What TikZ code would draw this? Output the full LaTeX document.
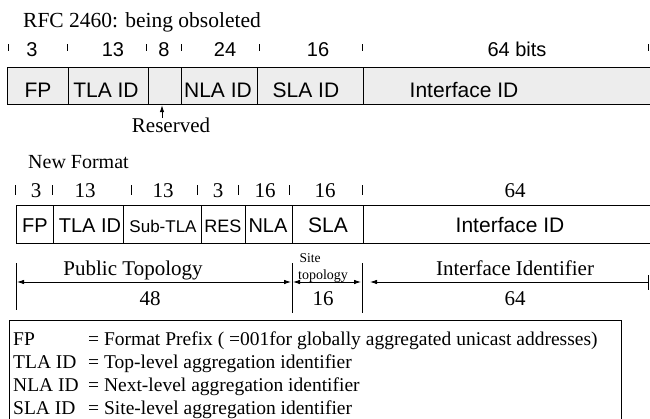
\documentclass[tikz,border=0pt]{standalone}
\usepackage{fontspec}
\setmainfont{Liberation Serif}
\setsansfont{Liberation Sans}
\usetikzlibrary{arrows.meta}
\begin{document}
\begin{tikzpicture}[x=1pt,y=-1pt,
  cellbox/.style={draw, line width=1.2pt, inner sep=0pt, anchor=north west},
  oldcell/.style={cellbox, fill=black!7},
  tickmark/.style={line width=0.9pt},
  bar/.style={line width=0.8pt},
  dimarrow/.style={line width=0.8pt, {Latex[length=7pt,width=4.5pt]}-{Latex[length=7pt,width=4.5pt]}},
  leftarrow/.style={line width=0.8pt, {Latex[length=7pt,width=4.5pt]}-},
  ser/.style={font=\fontsize{#1}{#1}\selectfont, inner sep=0pt, anchor=base},
  sans/.style={font=\sffamily\fontsize{#1}{#1}\selectfont, inner sep=0pt, anchor=base},
]
\useasboundingbox (0,0) rectangle (650,418);
\clip (0,0) rectangle (650,418);

% ---------- title ----------
\node[ser=21.5, anchor=base west] (title) at (23,27) {RFC 2460: being obsoleted};

% ---------- row 1 ticks and widths ----------
\foreach \x in {8,67,146,181,259,362,648} \draw[tickmark] (\x,44) -- (\x,51);
\node[sans=20] (a3)  at (32,56)  {3};
\node[sans=20] (a13) at (113,56) {13};
\node[sans=20] (a8)  at (164,56) {8};
\node[sans=20] (a24) at (225,56) {24};
\node[sans=20] (a16) at (318,56) {16};
\node[sans=20] (a64) at (517,56) {64 bits};

% ---------- row 1 boxes ----------
\node[oldcell, minimum width=61pt,  minimum height=37pt] (ofp)  at (7,67)   {};
\node[oldcell, minimum width=80pt,  minimum height=37pt] (otla) at (68,67)  {};
\node[oldcell, minimum width=33pt,  minimum height=37pt] (ores) at (148,67) {};
\node[oldcell, minimum width=76pt,  minimum height=37pt] (onla) at (181,67) {};
\node[oldcell, minimum width=106pt, minimum height=37pt] (osla) at (257,67) {};
\node[oldcell, minimum width=310pt, minimum height=37pt] (oif)  at (363,67) {};
\node[sans=21] (lofp)  at (38,97)  {FP};
\node[sans=21] (lotla) at (106,97) {TLA ID};
\node[sans=21] (lonla) at (218,97) {NLA ID};
\node[sans=21] (losla) at (306,97) {SLA ID};
\node[sans=21] (loif)  at (464,97) {Interface ID};

% reserved arrow
\coordinate (rtail) at (162,118);
\draw[line width=0.8pt, -{Latex[length=7pt,width=4.5pt]}] (rtail) -- (rtail |- ores.south);
\node[ser=21] (reserved) at (171,132) {Reserved};

% ---------- new format ----------
\node[ser=20, anchor=base west] (newfmt) at (28,168) {New Format};

\foreach \x in {15,52,131,197,238,289,362} \draw[tickmark] (\x,185) -- (\x,195);
\node[ser=21] (b3)   at (36,197)  {3};
\node[ser=21] (b13)  at (85,197)  {13};
\node[ser=21] (b13b) at (163,197) {13};
\node[ser=21] (b3b)  at (218,197) {3};
\node[ser=21] (b16)  at (265,197) {16};
\node[ser=21] (b16b) at (325,197) {16};
\node[ser=21] (b64)  at (515,197) {64};

\node[cellbox, minimum width=37pt,  minimum height=38pt] (nfp)  at (16,205)  {};
\node[cellbox, minimum width=70pt,  minimum height=38pt] (ntla) at (53,205)  {};
\node[cellbox, minimum width=78pt,  minimum height=38pt] (nsub) at (123,205) {};
\node[cellbox, minimum width=44pt,  minimum height=38pt] (nres) at (201,205) {};
\node[cellbox, minimum width=47pt,  minimum height=38pt] (nnla) at (245,205) {};
\node[cellbox, minimum width=71pt,  minimum height=38pt] (nsla) at (292,205) {};
\node[cellbox, minimum width=310pt, minimum height=38pt] (nif)  at (363,205) {};
\node[sans=20] (lnfp)  at (35,232)  {FP};
\node[sans=20] (lntla) at (90,232)  {TLA ID};
\node[sans=17] (lnsub) at (163,232) {Sub-TLA};
\node[sans=18] (lnres) at (223,232) {RES};
\node[sans=20] (lnnla) at (268,232) {NLA};
\node[sans=21] (lnsla) at (328,232) {SLA};
\node[sans=21] (lnif)  at (510,232) {Interface ID};

% ---------- topology dimensions ----------
\draw[bar] (16,263) -- (16,310);
\draw[bar] (292,263) -- (292,313);
\draw[bar] (362,263) -- (362,313);
\draw[bar] (648,275) -- (648,290);
\coordinate (pl) at (17,282);
\coordinate (pr) at (291,282);
\coordinate (sl) at (293,282);
\coordinate (sr) at (361,282);
\coordinate (il) at (370,282);
\coordinate (ir) at (648,282);
\draw[dimarrow] (pl) -- (pr);
\draw[dimarrow] (sl) -- (sr);
\draw[leftarrow] (il) -- (ir);

\node[ser=21]   (pubtop) at (133,275) {Public Topology};
\node[ser=13.5] (site)   at (310,262) {Site};
\node[ser=14]   (sitetop) at (323,279) {topology};
\node[ser=21]   (ifid)   at (515,275) {Interface Identifier};
\node[ser=21] (c48) at (150,305) {48};
\node[ser=21] (c16) at (323,305) {16};
\node[ser=21] (c64) at (515,305) {64};

% ---------- legend ----------
\draw[line width=0.8pt] (9,440) -- (9,320) -- (621,320) -- (621,440);
\foreach \y/\k/\v in {345/FP/{= Format Prefix ( =001for globally aggregated unicast addresses)},
                      368/TLA ID/{= Top-level aggregation identifier},
                      391/NLA ID/{= Next-level aggregation identifier},
                      414/SLA ID/{= Site-level aggregation identifier}} {
  \node[ser=19.5, anchor=base west] at (13,\y) {\k};
  \node[ser=19.5, anchor=base west] at (88,\y) {\v};
}
\end{tikzpicture}
\end{document}
